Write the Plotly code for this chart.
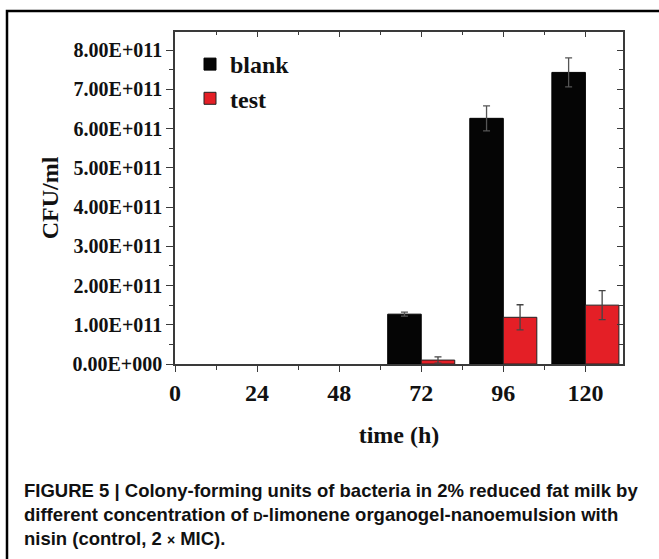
import plotly.graph_objects as go

# ---- data ----
times = [72, 96, 120]
blank_values = [1.27e11, 6.26e11, 7.43e11]
blank_errors = [0.05e11, 0.32e11, 0.37e11]
test_values = [0.10e11, 1.19e11, 1.50e11]
test_errors = [0.08e11, 0.32e11, 0.37e11]

x_tick_vals = [0, 24, 48, 72, 96, 120]
x_tick_text = ["0", "24", "48", "72", "96", "120"]
y_tick_vals = [0, 1e11, 2e11, 3e11, 4e11, 5e11, 6e11, 7e11, 8e11]
y_tick_text = ["0.00E+000", "1.00E+011", "2.00E+011", "3.00E+011", "4.00E+011",
               "5.00E+011", "6.00E+011", "7.00E+011", "8.00E+011"]

series_names = ["blank", "test"]
caption_lines = [
    "FIGURE 5 | Colony-forming units of bacteria in 2% reduced fat milk by",
    "different concentration of <span style='font-size:13px'>D</span>-limonene organogel-nanoemulsion with",
    "nisin (control, 2 <span style='font-size:14px'>×</span> MIC).",
]

# ---- style ----
SERIF = "Liberation Serif"
SANS = "Liberation Sans"
BLACK = "#050505"
RED = "#e41f26"
AXIS = "#3a3a3a"

W, H = 659, 559
ML, MR, MT, MB = 175, 36, 32, 195
PW, PH = W - ML - MR, H - MT - MB

def px_x(p):
    return (p - ML) / PW

def px_y(p):
    return (H - MB - p) / PH

fig = go.Figure()
fig.add_trace(go.Bar(
    x=times, y=blank_values, name=series_names[0],
    marker=dict(color=BLACK, line=dict(color="#000000", width=1)),
    width=9.8, offset=-9.8,
    error_y=dict(type="data", array=blank_errors, color="#555555", thickness=1.3, width=3.5),
))
fig.add_trace(go.Bar(
    x=times, y=test_values, name=series_names[1],
    marker=dict(color=RED, line=dict(color="#222222", width=1)),
    width=9.8, offset=0,
    error_y=dict(type="data", array=test_errors, color="#444444", thickness=1.3, width=3.5),
))

xr = [0, 131]
yr = [0, 8.46e11]

fig.update_layout(
    width=W, height=H,
    margin=dict(l=ML, r=MR, t=MT, b=MB, autoexpand=False),
    paper_bgcolor="white", plot_bgcolor="white",
    barmode="overlay",
    showlegend=True,
    legend=dict(
        x=px_x(190), y=px_y(42), xanchor="left", yanchor="top",
        font=dict(family=SERIF, size=24, color="#111111", weight="bold"),
        bgcolor="rgba(0,0,0,0)", itemwidth=30, tracegroupgap=0,
    ),
    xaxis=dict(
        range=xr, tickvals=x_tick_vals, ticktext=x_tick_text,
        showgrid=False, zeroline=False,
        showline=True, linecolor=AXIS, linewidth=1.5,
        ticks="outside", ticklen=6, tickwidth=1.3, tickcolor=AXIS,
        minor=dict(dtick=12, tick0=0, ticks="outside", ticklen=4, tickwidth=1.2, tickcolor=AXIS),
        tickfont=dict(family=SERIF, size=24, color="#111111", weight="bold"),
        title=dict(text="time (h)", font=dict(family=SERIF, size=24, color="#111111", weight="bold"),
                   standoff=22),
    ),
    yaxis=dict(
        range=yr, tickvals=y_tick_vals, ticktext=y_tick_text,
        showgrid=False, zeroline=False,
        showline=True, linecolor=AXIS, linewidth=1.5,
        ticks="outside", ticklen=7, tickwidth=1.3, tickcolor=AXIS,
        minor=dict(dtick=0.5e11, tick0=0, ticks="outside", ticklen=4, tickwidth=1.2, tickcolor=AXIS),
        tickfont=dict(family=SERIF, size=20, color="#111111", weight="bold"),
        title=dict(text="CFU/ml", font=dict(family=SERIF, size=24, color="#111111", weight="bold"),
                   standoff=7),
    ),
    xaxis2=dict(
        range=xr, overlaying="x", side="top", tickvals=x_tick_vals, showticklabels=False,
        showgrid=False, zeroline=False, showline=True, linecolor=AXIS, linewidth=1.5,
        ticks="inside", ticklen=5, tickwidth=1.3, tickcolor=AXIS,
        minor=dict(dtick=12, tick0=0, ticks="inside", ticklen=3, tickwidth=1.2, tickcolor=AXIS),
    ),
    yaxis2=dict(
        range=yr, overlaying="y", side="right", tickvals=y_tick_vals, showticklabels=False,
        showgrid=False, zeroline=False, showline=True, linecolor=AXIS, linewidth=1.5,
        ticks="inside", ticklen=6, tickwidth=1.3, tickcolor=AXIS,
        minor=dict(dtick=0.5e11, tick0=0, ticks="inside", ticklen=4, tickwidth=1.2, tickcolor=AXIS),
    ),
)

# invisible trace to activate the mirrored axes
fig.add_trace(go.Scatter(x=[None], y=[None], xaxis="x2", yaxis="y2", showlegend=False, hoverinfo="skip"))

# outer figure frame
fig.add_shape(type="rect", xref="paper", yref="paper",
              x0=px_x(7), x1=px_x(700), y0=px_y(620), y1=px_y(11),
              line=dict(color="#000000", width=2.5), fillcolor="rgba(0,0,0,0)", layer="below")

# caption
for i, line in enumerate(caption_lines):
    fig.add_annotation(
        text=line, xref="paper", yref="paper",
        x=px_x(22), y=px_y(490 + 24 * i), xanchor="left", yanchor="middle",
        showarrow=False, align="left",
        font=dict(family=SANS, size=18.5, color="#111111", weight="bold"),
    )

fig.write_html(
    "out.html",
    config={"displayModeBar": False},
    post_script="document.body.style.margin='0';document.body.style.overflow='hidden';",
)
